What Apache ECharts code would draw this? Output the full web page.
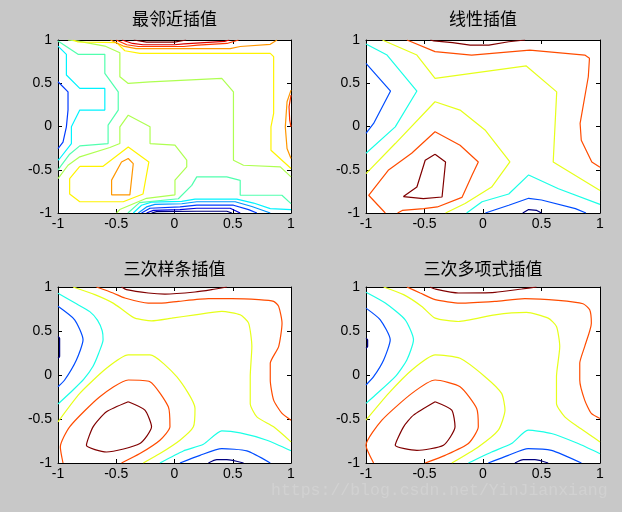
<!DOCTYPE html>
<html><head><meta charset="utf-8">
<script src="https://cdn.jsdelivr.net/npm/echarts@6/dist/echarts.min.js"></script>
<style>html,body{margin:0;padding:0;background:#c8c8c8;}#c{width:622px;height:512px;}</style>
</head><body><div id="c"></div>
<script>
// ---- tick labels / titles ----
const xTicks = [-1, -0.5, 0, 0.5, 1];
const yTicks = [-1, -0.5, 0, 0.5, 1];
const titles = ['最邻近插值', '线性插值', '三次样条插值', '三次多项式插值'];
const watermark = 'https://blog.csdn.net/YinJianxiang';

// jet contour level colours
const jet12 = ['#000080','#0000dc','#003aff','#0097ff','#00f3ff','#51ffae','#aeff51','#fff300','#ff9700','#ff3a00','#dc0000','#800000'];
const jet6 = ['#000080','#004cff','#1affe6','#e6ff1a','#ff4c00','#800000'];

// ---- subplot 1: nearest ----
const nn_k0 = [[-0.197,-1],[-0.154,-0.985],[0.191,-0.98],[0.449,-0.98],[0.492,-1]];
const nn_k1 = [[-0.24,-1],[-0.182,-0.97],[0.047,-0.96],[0.191,-0.945],[0.478,-0.945],[0.564,-1]];
const nn_k2b = [[-0.283,-1],[-0.211,-0.945],[0.047,-0.93],[0.191,-0.91],[0.506,-0.91],[0.636,-0.961],[0.707,-1]];
const nn_k2l = [[-1,0.517],[-0.914,0.40],[-0.914,0.19],[-0.928,-0.004],[-0.957,-0.18],[-1,-0.255]];
const nn_k3 = [[-0.311,-1],[-0.24,-0.93],[-0.168,-0.9],[0.062,-0.893],[0.191,-0.87],[0.521,-0.87],[0.664,-0.925],[0.822,-1]];
const nn_k4b = [[-0.354,-1],[-0.283,-0.91],[-0.197,-0.875],[0.062,-0.865],[0.176,-0.84],[0.535,-0.84],[0.679,-0.885],[0.822,-0.95],[1,-0.961]];
const nn_k4l = [[-1,0.93],[-0.928,0.834],[-0.928,0.595],[-0.813,0.44],[-0.598,0.44],[-0.598,0.19],[-0.813,0.19],[-0.885,-0.004],[-0.885,-0.197],[-0.985,-0.37],[-1,-0.39]];
const nn_k5l = [[-1,0.988],[-0.828,0.834],[-0.598,0.834],[-0.598,0.614],[-0.483,0.40],[-0.483,0.19],[-0.57,0.015],[-0.57,-0.197],[-0.813,-0.224],[-0.9,-0.32],[-0.986,-0.475],[-1,-0.506]];
const nn_k5b = [[-0.40,-1],[-0.30,-0.88],[0.033,-0.835],[0.148,-0.68],[0.191,-0.583],[0.449,-0.583],[0.564,-0.622],[0.564,-0.795],[0.922,-0.795],[1,-0.892]];
const nn_k6a = [[-0.498,-1],[-0.47,-0.96],[-0.24,-0.83],[0.004,-0.79],[0.004,-0.62],[0.105,-0.467],[0.105,-0.39],[0.004,-0.216],[-0.21,-0.197],[-0.21,-0.004],[-0.397,0.131],[-0.469,-0.004],[-0.469,-0.197],[-0.555,-0.243],[-0.813,-0.351],[-0.914,-0.448],[-1,-0.602]];
const nn_k6b = [[-0.914,1],[-0.828,0.988],[-0.598,0.93],[-0.469,0.853],[-0.469,0.575],[-0.397,0.498],[-0.21,0.517],[0.406,0.556],[0.506,0.40],[0.506,-0.39],[0.592,-0.448],[0.908,-0.467],[1,-0.583]];
const nn_k7t = [[-0.871,1],[-0.828,0.977],[-0.498,0.969],[-0.426,0.876],[-0.297,0.846],[0.822,0.846],[0.851,0.807],[0.851,0.151],[0.828,-0.004],[0.828,-0.274],[1,-0.486]];
const nn_k7l = [[-0.813,-0.46],[-0.613,-0.46],[-0.397,-0.236],[-0.22,-0.41],[-0.27,-0.78],[-0.44,-0.87],[-0.813,-0.87],[-0.9,-0.78],[-0.9,-0.602],[-0.813,-0.46]];
const nn_k8t = [[-0.55,1],[-0.44,0.93],[-0.33,0.9],[0.478,0.9],[0.564,0.925],[0.822,0.95],[0.88,1]];
const nn_k8l = [[-0.397,-0.37],[-0.354,-0.43],[-0.383,-0.79],[-0.54,-0.79],[-0.54,-0.62],[-0.455,-0.41],[-0.397,-0.37]];
const nn_k8r = [[1,0.42],[0.966,0.286],[0.951,-0.004],[0.966,-0.255],[1,-0.37]];
const nn_k9t = [[-0.5,1],[-0.41,0.945],[-0.31,0.925],[0.08,0.925],[0.2,0.94],[0.45,0.96],[0.55,1]];
const nn_k9r = [[1,0.363],[0.983,0.228],[0.989,0.073],[1,-0.004]];
const nn_k10 = [[-0.45,1],[-0.36,0.96],[-0.27,0.945],[0.0,0.945],[0.08,0.955],[0.43,0.985],[0.47,1]];
const nn_k11 = [[-0.35,1],[-0.24,0.975],[0.0,0.975],[0.1,1]];

// ---- subplot 2: linear ----
const li_k0 = [[0.34,-1],[0.39,-0.96],[0.46,-0.97],[0.5,-1]];
const li_k1l = [[-1,0.73],[-0.79,0.41],[-0.935,0.035],[-1,-0.08]];
const li_k1b = [[0.02,-1],[0.22,-0.91],[0.39,-0.83],[0.5,-0.85],[0.79,-0.95],[0.88,-1]];
const li_k2l = [[-1,0.954],[-0.82,0.826],[-0.565,0.41],[-0.75,-0.004],[-1,-0.31]];
const li_k2b = [[-0.14,-1],[-0.008,-0.87],[0.22,-0.78],[0.39,-0.56],[0.645,-0.72],[1,-0.9]];
const li_k3t = [[-0.86,1],[-0.565,0.826],[-0.41,0.556],[0.37,0.70],[0.63,0.40],[0.60,-0.41],[1,-0.74]];
const li_k3m = [[-1,-0.544],[-0.75,-0.197],[-0.41,0.286],[-0.196,0.19],[0.017,-0.04],[0.23,-0.41],[0.074,-0.70],[-0.153,-0.89],[-0.32,-1]];
const li_k4t = [[-0.65,1],[-0.41,0.865],[-0.097,0.826],[0.40,0.884],[0.87,0.826],[0.91,0.79],[0.90,0.575],[0.83,0.035],[0.84,-0.16],[0.93,-0.41],[1,-0.47]];
const li_k4m = [[-0.835,-1],[-0.977,-0.795],[-0.81,-0.506],[-0.61,-0.31],[-0.41,-0.06],[-0.196,-0.216],[-0.04,-0.41],[-0.094,-0.564],[-0.18,-0.82],[-0.39,-0.93],[-0.506,-0.95],[-0.69,-0.97],[-0.73,-1]];
const li_k5t = [[-0.45,1],[-0.42,0.99],[-0.26,0.97],[-0.11,0.94],[0.05,0.94],[0.22,0.98],[0.36,1]];
const li_k5m = [[-0.41,-0.32],[-0.32,-0.41],[-0.35,-0.815],[-0.51,-0.834],[-0.68,-0.81],[-0.565,-0.70],[-0.494,-0.39],[-0.41,-0.32]];

// ---- subplot 3: spline ----
const sp_k0l = [[-1,0.437],[-0.986,0.418],[-0.986,0.209],[-1,0.19]];
const sp_k0b = [[0.291,-1],[0.363,-0.962],[0.449,-0.962],[0.593,-1]];
const sp_k1l = [[-1,0.78],[-0.857,0.627],[-0.785,0.4],[-0.842,0.171],[-0.943,-0.057],[-1,-0.133]];
const sp_k1b = [[0.047,-1],[0.219,-0.913],[0.406,-0.837],[0.621,-0.863],[0.822,-1]];
const sp_k2l = [[-1,0.93],[-0.857,0.82],[-0.727,0.72],[-0.66,0.62],[-0.62,0.5],[-0.613,0.4],[-0.65,0.25],[-0.699,0.1],[-0.78,-0.05],[-0.871,-0.17],[-1,-0.33]];
const sp_k2b = [[-0.125,-1],[0.076,-0.863],[0.248,-0.787],[0.406,-0.635],[0.564,-0.658],[0.793,-0.741],[1,-0.86]];
const sp_k3t = [[-0.871,1],[-0.684,0.913],[-0.527,0.817],[-0.426,0.722],[-0.34,0.646],[-0.197,0.616],[-0.024,0.646],[0.176,0.684],[0.406,0.722],[0.564,0.684],[0.636,0.589],[0.664,0.323],[0.65,-0.019],[0.65,-0.323],[0.707,-0.475],[0.851,-0.589],[1,-0.76]];
const sp_k3m = [[-1,-0.532],[-0.813,-0.209],[-0.584,0.076],[-0.397,0.228],[-0.211,0.228],[0.019,-0.019],[0.176,-0.38],[0.162,-0.589],[0.047,-0.741],[-0.125,-0.893],[-0.268,-1]];
const sp_k4t = [[-0.67,1],[-0.527,0.932],[-0.426,0.875],[-0.225,0.817],[-0.11,0.817],[0.033,0.837],[0.291,0.867],[0.492,0.867],[0.722,0.856],[0.851,0.837],[0.894,0.78],[0.923,0.589],[0.894,0.323],[0.822,0.133],[0.822,-0.057],[0.851,-0.285],[0.923,-0.437],[1,-0.513]];
const sp_k4m = [[-0.957,-1],[-0.98,-0.817],[-0.9,-0.589],[-0.641,-0.247],[-0.397,-0.057],[-0.211,-0.076],[-0.053,-0.361],[-0.039,-0.589],[-0.125,-0.741],[-0.297,-0.893],[-0.455,-1]];
const sp_k5t = [[-0.455,1],[-0.412,0.97],[-0.225,0.932],[-0.082,0.92],[0.176,0.943],[0.32,0.97],[0.449,1]];
const sp_k5m = [[-0.397,-0.304],[-0.254,-0.399],[-0.197,-0.589],[-0.297,-0.779],[-0.584,-0.875],[-0.756,-0.799],[-0.699,-0.589],[-0.584,-0.418],[-0.397,-0.304]];

// ---- subplot 4: cubic ----
const cu_k0l = [[-1,0.418],[-0.986,0.4],[-0.986,0.323],[-1,0.304]];
const cu_k0b = [[0.273,-1],[0.344,-0.962],[0.443,-0.962],[0.557,-1]];
const cu_k1l = [[-1,0.76],[-0.878,0.627],[-0.793,0.4],[-0.849,0.171],[-0.935,-0.019],[-1,-0.114]];
const cu_k1b = [[0.045,-1],[0.216,-0.913],[0.386,-0.837],[0.585,-0.856],[0.841,-1]];
const cu_k2l = [[-1,0.94],[-0.835,0.817],[-0.665,0.627],[-0.594,0.4],[-0.651,0.171],[-0.75,-0.019],[-0.92,-0.228],[-1,-0.323]];
const cu_k2b = [[-0.125,-1],[0.074,-0.875],[0.244,-0.779],[0.386,-0.627],[0.585,-0.665],[0.813,-0.779],[1,-0.894]];
const cu_k3t = [[-0.849,1],[-0.679,0.913],[-0.523,0.779],[-0.409,0.646],[-0.21,0.608],[0.102,0.684],[0.372,0.711],[0.557,0.646],[0.628,0.551],[0.656,0.323],[0.628,-0.019],[0.628,-0.323],[0.699,-0.475],[0.812,-0.589],[1,-0.76]];
const cu_k3m = [[-1,-0.513],[-0.807,-0.209],[-0.608,0.057],[-0.409,0.228],[-0.196,0.19],[0.017,-0.019],[0.159,-0.209],[0.188,-0.399],[0.131,-0.627],[-0.04,-0.817],[-0.267,-1]];
const cu_k4t = [[-0.65,1],[-0.537,0.932],[-0.409,0.856],[-0.196,0.817],[0.102,0.837],[0.358,0.867],[0.642,0.848],[0.855,0.81],[0.912,0.741],[0.926,0.589],[0.869,0.323],[0.827,0.133],[0.827,-0.057],[0.869,-0.285],[0.926,-0.437],[1,-0.494]];
const cu_k4m = [[-0.935,-1],[-1,-0.798],[-0.864,-0.513],[-0.608,-0.209],[-0.409,-0.057],[-0.196,-0.133],[-0.054,-0.38],[-0.04,-0.589],[-0.125,-0.779],[-0.324,-0.913],[-0.494,-1]];
const cu_k5t = [[-0.452,1],[-0.409,0.977],[-0.21,0.932],[0.102,0.939],[0.33,0.977],[0.457,1]];
const cu_k5m = [[-0.409,-0.304],[-0.267,-0.399],[-0.239,-0.589],[-0.338,-0.798],[-0.565,-0.856],[-0.75,-0.798],[-0.679,-0.589],[-0.594,-0.456],[-0.409,-0.304]];

// which contour belongs to which panel and level
const panelLines = [
  [[nn_k0,0],[nn_k1,1],[nn_k2b,2],[nn_k2l,2],[nn_k3,3],[nn_k4b,4],[nn_k4l,4],[nn_k5l,5],[nn_k5b,5],[nn_k6a,6],[nn_k6b,6],[nn_k7t,7],[nn_k7l,7],[nn_k8t,8],[nn_k8l,8],[nn_k8r,8],[nn_k9t,9],[nn_k9r,9],[nn_k10,10],[nn_k11,11]],
  [[li_k0,0],[li_k1l,1],[li_k1b,1],[li_k2l,2],[li_k2b,2],[li_k3t,3],[li_k3m,3],[li_k4t,4],[li_k4m,4],[li_k5t,5],[li_k5m,5]],
  [[sp_k0l,0],[sp_k0b,0],[sp_k1l,1],[sp_k1b,1],[sp_k2l,2],[sp_k2b,2],[sp_k3t,3],[sp_k3m,3],[sp_k4t,4],[sp_k4m,4],[sp_k5t,5],[sp_k5m,5]],
  [[cu_k0l,0],[cu_k0b,0],[cu_k1l,1],[cu_k1b,1],[cu_k2l,2],[cu_k2b,2],[cu_k3t,3],[cu_k3m,3],[cu_k4t,4],[cu_k4m,4],[cu_k5t,5],[cu_k5m,5]]
];
const panelPalettes = [jet12, jet6, jet6, jet6];

const grids = [
  {left:58, top:40, width:233, height:173},
  {left:366, top:40, width:234, height:173},
  {left:58, top:287, width:233, height:176},
  {left:366, top:287, width:234, height:176}
];
const titlePos = [[174.5,10],[483,10],[174.5,260],[483,260]];

const labelFont = {color:'#000', fontSize:14, fontFamily:'Liberation Sans, Arial, sans-serif'};
function axis(kind, gi, pos, showLabel, ticks){
  return {
    type:'value', gridIndex:gi, position:pos,
    min:ticks[0], max:ticks[ticks.length-1], interval:ticks[1]-ticks[0],
    axisLine:{show:true, onZero:false, lineStyle:{color:'#000', width:1}},
    axisTick:{show:true, inside:true, length:4, lineStyle:{color:'#000', width:1}},
    axisLabel:Object.assign({show:showLabel, margin: kind==='x'?4:6}, labelFont),
    splitLine:{show:false}
  };
}
const xAxes = [], yAxes = [], series = [];
grids.forEach((g, i) => {
  xAxes.push(axis('x', i, 'bottom', true, xTicks));
  xAxes.push(axis('x', i, 'top', false, xTicks));
  yAxes.push(axis('y', i, 'left', true, yTicks));
  yAxes.push(axis('y', i, 'right', false, yTicks));
  panelLines[i].forEach(([pts, lvl]) => {
    series.push({
      type:'line', xAxisIndex:2*i, yAxisIndex:2*i, data:pts,
      symbol:'none', showSymbol:false, silent:true, clip:true,
      smooth: i >= 2 ? 0.2 : false,
      lineStyle:{color: panelPalettes[i][lvl], width:1.2},
      animation:false
    });
  });
});

const chart = echarts.init(document.getElementById('c'), null, {renderer:'canvas'});
chart.setOption({
  backgroundColor:'#c8c8c8',
  animation:false,
  title: titles.map((t, i) => ({
    text:t, left:titlePos[i][0], top:titlePos[i][1], textAlign:'center', padding:0,
    textStyle:{fontSize:17, fontWeight:'normal', color:'#000', lineHeight:17, fontFamily:'Noto Sans CJK SC'}
  })),
  grid: grids.map(g => Object.assign({show:true, backgroundColor:'#fff', borderWidth:0}, g)),
  xAxis: xAxes,
  yAxis: yAxes,
  series: series,
  graphic: [{
    type:'text', left:271, top:482, silent:true,
    style:{text:watermark, fill:'#d1d1d1', font:'16.5px "Liberation Mono", monospace'}
  }]
});
</script>
</body></html>
